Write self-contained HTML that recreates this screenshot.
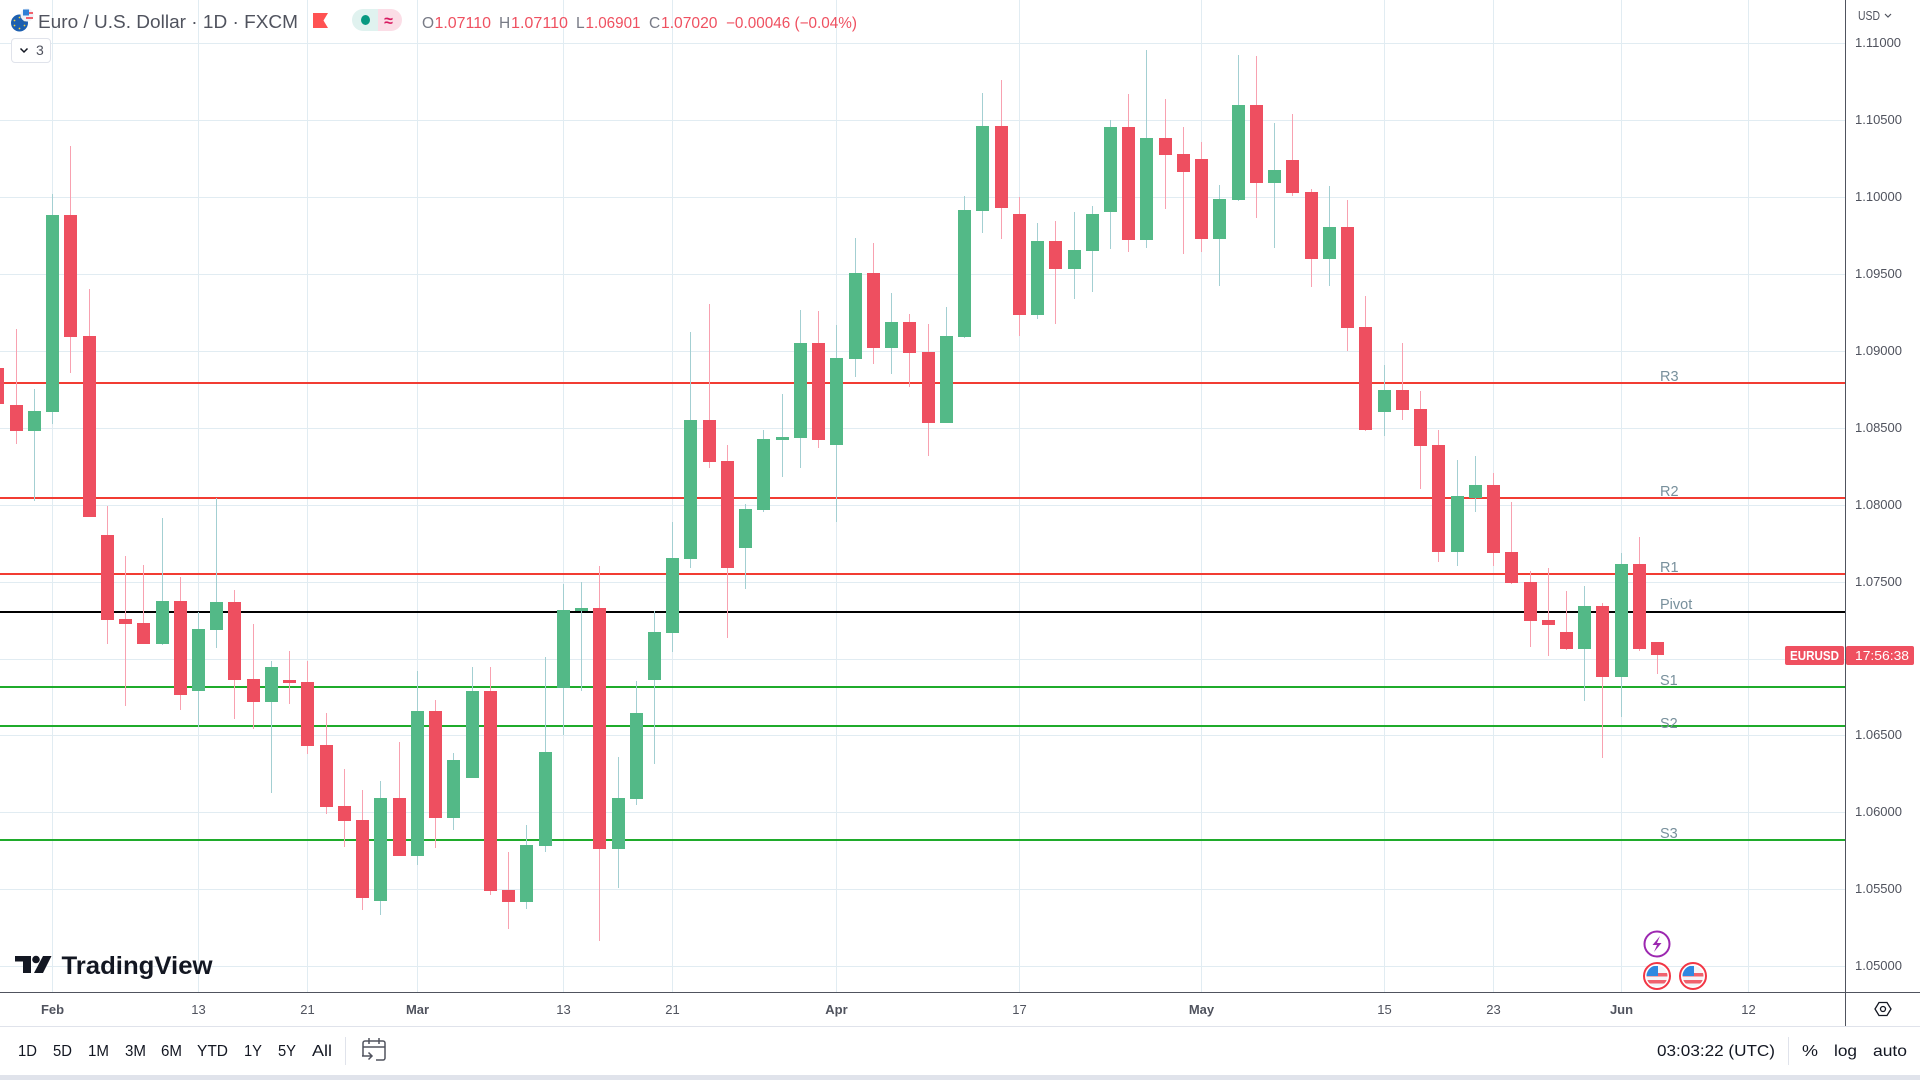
<!DOCTYPE html>
<html lang="en">
<head>
<meta charset="utf-8">
<title>Euro / U.S. Dollar 1D FXCM</title>
<style>
html,body{margin:0;padding:0;background:#fff;width:1920px;height:1080px;overflow:hidden}
svg{display:block;font-family:"Liberation Sans",Arial,sans-serif}
.crisp rect,rect.crisp,line.crisp{shape-rendering:crispEdges}
</style>
</head>
<body>
<svg id="chart" xmlns="http://www.w3.org/2000/svg" width="1920" height="1080" viewBox="0 0 1920 1080">
  <rect x="0" y="0" width="1920" height="1080" fill="#ffffff"/>
  <g id="grid" class="crisp"></g>
  <g id="levels" class="crisp"></g>
  <g id="candles" class="crisp"></g>
  <g id="levelLabels"></g>

  <g>
    <g>
      <circle cx="19.5" cy="23" r="8.5" fill="#1c5fb0"/>
      <g fill="#f5d33c">
        <circle cx="19.5" cy="17.5" r="0.9"/><circle cx="24.5" cy="20.5" r="0.9"/><circle cx="24.5" cy="25.5" r="0.9"/>
        <circle cx="19.5" cy="28.5" r="0.9"/><circle cx="14.5" cy="25.5" r="0.9"/><circle cx="14.5" cy="20.5" r="0.9"/>
      </g>
      <circle cx="27" cy="15" r="6.5" fill="#eef1f6"/>
      <rect x="23" y="9.5" width="6" height="6" fill="#2f7fd6"/>
      <rect x="29" y="12" width="4" height="2" fill="#f0616d"/>
      <rect x="26" y="17" width="7" height="2" fill="#f0616d"/>
    </g>
    <text x="38" y="28" font-size="18" fill="#50535e" textLength="260" lengthAdjust="spacingAndGlyphs">Euro / U.S. Dollar · 1D · FXCM</text>
    <path d="M313 13H328L323.5 20.5L328 28H313Z" fill="#ff5252"/>
    <g>
      <path d="M378 9H363a11 11 0 0 0 0 22H378Z" fill="#e0f2ef"/>
      <path d="M378 9H391a11 11 0 0 1 0 22H378Z" fill="#fbdde6"/>
      <ellipse cx="365.500" cy="20" rx="4.500" ry="5" fill="#089981"/>
      <text x="388.500" y="26" font-size="16" fill="#d81b60" text-anchor="middle" font-weight="700">≈</text>
    </g>
    <g font-size="15.500">
      <text x="422" y="28" fill="#787b86">O</text>
      <text x="434.500" y="28" fill="#ef5060" textLength="56.500" lengthAdjust="spacingAndGlyphs">1.07110</text>
      <text x="499" y="28" fill="#787b86">H</text>
      <text x="511" y="28" fill="#ef5060" textLength="57" lengthAdjust="spacingAndGlyphs">1.07110</text>
      <text x="576" y="28" fill="#787b86">L</text>
      <text x="585.500" y="28" fill="#ef5060" textLength="55" lengthAdjust="spacingAndGlyphs">1.06901</text>
      <text x="649" y="28" fill="#787b86">C</text>
      <text x="661" y="28" fill="#ef5060" textLength="56.500" lengthAdjust="spacingAndGlyphs">1.07020</text>
      <text x="726" y="28" fill="#ef5060" textLength="131" lengthAdjust="spacingAndGlyphs">−0.00046 (−0.04%)</text>
    </g>
    <g>
      <rect x="11.500" y="38.500" width="39" height="24" rx="3.500" fill="#ffffff" stroke="#e0e3eb"/>
      <path d="M20.500 48.500L24 52L27.500 48.500" fill="none" stroke="#131722" stroke-width="1.500"/>
      <text x="36" y="55" font-size="14" fill="#50535e">3</text>
    </g>
  </g>

  <g>
    <path d="M15 956H31V973H23V961.500H15Z" fill="#131722"/>
    <circle cx="36" cy="959.500" r="3.800" fill="#131722"/>
    <path d="M43 956H51.500L43 973H34Z" fill="#131722"/>
    <text x="61.500" y="974" font-size="25" font-weight="700" fill="#131722" textLength="151" lengthAdjust="spacingAndGlyphs">TradingView</text>
  </g>

  <g>
    <g>
      <circle cx="1657" cy="944" r="12.500" fill="#ffffff" stroke="#9c27b0" stroke-width="2"/>
      <path d="M1660 936L1652.500 945H1657L1654 952L1661.500 943H1657Z" fill="#9c27b0"/>
    </g>
    <clipPath id="flagClipA"><circle cx="1657" cy="976" r="10.500"/></clipPath>
    <clipPath id="flagClipB"><circle cx="1693" cy="976" r="10.500"/></clipPath>
    <g>
      <circle cx="1657" cy="976" r="13" fill="#ffffff" stroke="#f23645" stroke-width="2"/>
      <g clip-path="url(#flagClipA)">
        <rect x="1646" y="965" width="22" height="22" fill="#f4f5f8"/>
        <rect x="1646" y="973" width="22" height="3.500" fill="#f0616d"/>
        <rect x="1646" y="980" width="22" height="3.500" fill="#f0616d"/>
        <rect x="1646" y="966" width="12" height="10" fill="#2f88e0"/>
      </g>
    </g>
    <g>
      <circle cx="1693" cy="976" r="13" fill="#ffffff" stroke="#f23645" stroke-width="2"/>
      <g clip-path="url(#flagClipB)">
        <rect x="1682" y="965" width="22" height="22" fill="#f4f5f8"/>
        <rect x="1682" y="973" width="22" height="3.500" fill="#f0616d"/>
        <rect x="1682" y="980" width="22" height="3.500" fill="#f0616d"/>
        <rect x="1682" y="966" width="12" height="10" fill="#2f88e0"/>
      </g>
    </g>
  </g>

  <g>
    <rect class="crisp" x="1845" y="0" width="1" height="1027" fill="#50535e"/>
    <rect class="crisp" x="0" y="992" width="1920" height="1" fill="#50535e"/>
    <rect class="crisp" x="0" y="1026" width="1920" height="1" fill="#e0e3eb"/>
    <rect class="crisp" x="0" y="1075" width="1920" height="5" fill="#e0e3eb"/>
  </g>
  <g id="priceTicksGroup"></g>
  <g id="timeTicksGroup"></g>

  <text x="1858" y="20" font-size="12.500" fill="#50535e" textLength="22" lengthAdjust="spacingAndGlyphs">USD</text>
  <path d="M1885 14L1888 17L1891 14" fill="none" stroke="#50535e" stroke-width="1.200"/>

  <g>
    <rect x="1785" y="646" width="59" height="19" rx="2" fill="#ef5060"/>
    <text x="1814.500" y="660" font-size="13" font-weight="700" fill="#ffffff" text-anchor="middle" textLength="49" lengthAdjust="spacingAndGlyphs">EURUSD</text>
    <rect x="1846" y="646" width="68" height="19" rx="2" fill="#ef5060"/>
    <text x="1882" y="660" font-size="13" fill="#ffffff" text-anchor="middle" textLength="54" lengthAdjust="spacingAndGlyphs">17:56:38</text>
  </g>

  <g fill="none" stroke="#131722" stroke-width="1.300">
    <path d="M1875 1009L1879 1002.500H1887L1891 1009L1887 1015.500H1879Z"/>
    <circle cx="1883" cy="1009" r="2.500"/>
  </g>

  <g font-size="15.500" fill="#131722">
    <text x="18" y="1056" textLength="19" lengthAdjust="spacingAndGlyphs">1D</text>
    <text x="53" y="1056" textLength="19" lengthAdjust="spacingAndGlyphs">5D</text>
    <text x="88" y="1056" textLength="21" lengthAdjust="spacingAndGlyphs">1M</text>
    <text x="125" y="1056" textLength="21" lengthAdjust="spacingAndGlyphs">3M</text>
    <text x="161" y="1056" textLength="21" lengthAdjust="spacingAndGlyphs">6M</text>
    <text x="197" y="1056" textLength="31" lengthAdjust="spacingAndGlyphs">YTD</text>
    <text x="244" y="1056" textLength="18" lengthAdjust="spacingAndGlyphs">1Y</text>
    <text x="278" y="1056" textLength="18" lengthAdjust="spacingAndGlyphs">5Y</text>
    <text x="312" y="1056" textLength="20" lengthAdjust="spacingAndGlyphs">All</text>
    <rect class="crisp" x="345" y="1037" width="1" height="28" fill="#e0e3eb"/>
    <g fill="none" stroke="#50535e" stroke-width="1.500">
      <path d="M363 1056V1043a2 2 0 0 1 2-2H383a2 2 0 0 1 2 2V1058a2 2 0 0 1-2 2H376"/>
      <path d="M363 1047H385M369 1038V1044M379 1038V1044"/>
      <path d="M362 1056H372M368.500 1052.500L372 1056L368.500 1059.500"/>
    </g>
    <text x="1657" y="1056" textLength="118" lengthAdjust="spacingAndGlyphs" font-size="16">03:03:22 (UTC)</text>
    <rect class="crisp" x="1788" y="1037" width="1" height="28" fill="#e0e3eb"/>
    <text x="1802" y="1056" textLength="16" lengthAdjust="spacingAndGlyphs" font-size="16">%</text>
    <text x="1834" y="1056" textLength="23" lengthAdjust="spacingAndGlyphs" font-size="16">log</text>
    <text x="1873" y="1056" textLength="34" lengthAdjust="spacingAndGlyphs" font-size="16">auto</text>
  </g>
</svg>

<script>
const opens = [1.08889,1.08648,1.08479,1.08603,1.09884,1.09097,1.07803,1.07257,1.07231,1.07094,1.07374,1.06789,1.07185,1.07367,1.06867,1.06717,1.06860,1.06847,1.06438,1.06041,1.05950,1.05423,1.06093,1.05716,1.06659,1.05963,1.06223,1.06789,1.05495,1.05417,1.05781,1.06808,1.07309,1.07328,1.05761,1.06086,1.06860,1.07166,1.07647,1.08551,1.08284,1.07718,1.07966,1.08421,1.08434,1.09051,1.08388,1.08947,1.09507,1.09019,1.09188,1.08993,1.08531,1.09090,1.09910,1.10462,1.09890,1.09233,1.09715,1.09533,1.09650,1.09903,1.10456,1.09721,1.10384,1.10280,1.10248,1.09728,1.09981,1.10599,1.10092,1.10241,1.10033,1.09597,1.09806,1.09155,1.08603,1.08746,1.08622,1.08388,1.07692,1.08044,1.08128,1.07692,1.07497,1.07250,1.07172,1.07062,1.07341,1.06880,1.07614,1.07110];
const highs = [1.08889,1.09142,1.08752,1.10020,1.10332,1.09402,1.07991,1.07666,1.07608,1.07913,1.07530,1.07302,1.08044,1.07445,1.07224,1.06984,1.07049,1.06984,1.06646,1.06282,1.06145,1.06203,1.06457,1.06919,1.06730,1.06386,1.06945,1.06945,1.05742,1.05917,1.07010,1.07484,1.07497,1.07601,1.06360,1.06854,1.07309,1.07887,1.09123,1.09305,1.08388,1.08005,1.08486,1.08720,1.09266,1.09259,1.09168,1.09734,1.09702,1.09376,1.09240,1.09175,1.09285,1.10007,1.10677,1.10761,1.10001,1.09832,1.09845,1.09903,1.09942,1.10501,1.10670,1.10956,1.10638,1.10456,1.10358,1.10079,1.10924,1.10917,1.10482,1.10540,1.10053,1.10072,1.09981,1.09357,1.08908,1.09051,1.08739,1.08486,1.08291,1.08317,1.08206,1.08018,1.07569,1.07588,1.07439,1.07471,1.07361,1.07686,1.07790,1.07110];
const lows = [1.08655,1.08395,1.08024,1.08525,1.08856,1.07920,1.07094,1.06691,1.07094,1.07088,1.06665,1.06555,1.07068,1.06607,1.06542,1.06125,1.06704,1.06379,1.05989,1.05774,1.05365,1.05332,1.05716,1.05657,1.05768,1.05885,1.06223,1.05462,1.05241,1.05371,1.05742,1.06503,1.06789,1.05163,1.05508,1.06047,1.06314,1.07042,1.07588,1.08239,1.07133,1.07452,1.07953,1.08180,1.08239,1.08369,1.07887,1.08830,1.08915,1.08850,1.08765,1.08317,1.08531,1.09084,1.09767,1.09728,1.09097,1.09207,1.09175,1.09337,1.09383,1.09663,1.09643,1.09669,1.09923,1.09630,1.09643,1.09422,1.09975,1.09864,1.09669,1.10007,1.09415,1.09422,1.08999,1.08479,1.08447,1.08551,1.08102,1.07627,1.07601,1.07953,1.07601,1.07484,1.07075,1.07016,1.07055,1.06724,1.06353,1.06620,1.07049,1.06901];
const closes = [1.08655,1.08479,1.08609,1.09884,1.09090,1.07920,1.07250,1.07224,1.07094,1.07374,1.06763,1.07192,1.07367,1.06860,1.06717,1.06945,1.06841,1.06431,1.06034,1.05943,1.05443,1.06093,1.05716,1.06659,1.05963,1.06340,1.06789,1.05488,1.05417,1.05787,1.06392,1.07315,1.07328,1.05761,1.06093,1.06646,1.07172,1.07653,1.08551,1.08278,1.07588,1.07972,1.08427,1.08440,1.09051,1.08421,1.08954,1.09507,1.09019,1.09188,1.08986,1.08531,1.09097,1.09916,1.10462,1.09929,1.09233,1.09715,1.09533,1.09656,1.09890,1.10456,1.09721,1.10384,1.10274,1.10163,1.09728,1.09988,1.10599,1.10092,1.10176,1.10027,1.09597,1.09806,1.09149,1.08486,1.08746,1.08616,1.08382,1.07692,1.08057,1.08128,1.07686,1.07491,1.07244,1.07218,1.07062,1.07341,1.06880,1.07614,1.07062,1.07020];

const pivotNames = ["R3","R2","R1","Pivot","S1","S2","S3"];
const pivotPrices = [1.08793,1.08043,1.07549,1.07302,1.06815,1.06561,1.05820];
const pivotKinds = ["resistance","resistance","resistance","pivot","support","support","support"];

const priceTicks = [1.11,1.105,1.10,1.095,1.09,1.085,1.08,1.075,1.07,1.065,1.06,1.055,1.05];
const timeTickLabels = ["Feb","13","21","Mar","13","21","Apr","17","May","15","23","Jun","12"];
const timeTickBars = [3,11,17,23,31,37,46,56,66,76,82,89,96];
const timeTickBold = [true,false,false,true,false,false,true,false,true,false,false,true,false];

const SVGNS = "http://www.w3.org/2000/svg";
const PLOT_RIGHT = 1845;
const PLOT_BOTTOM = 992;

function yScale(price) {
  return 43.3 + (1.11 - price) / 0.005 * 76.9;
}
function xScale(barIndex) {
  return Math.floor(-2.15 + 18.24 * barIndex);
}
function labelOffset(name) {
  if (name === "S2") { return 2; }
  if (name === "Pivot") { return -3; }
  return -2;
}
function svgEl(tag, attrs) {
  const el = document.createElementNS(SVGNS, tag);
  for (const key in attrs) {
    el.setAttribute(key, attrs[key]);
  }
  return el;
}

const gridGroup = document.getElementById("grid");
priceTicks.forEach(function (price) {
  const line = svgEl("rect", { x: 0, y: Math.round(yScale(price)), width: PLOT_RIGHT, height: 1, fill: "#e1ecf2" });
  
  
  gridGroup.appendChild(line);
});
timeTickBars.forEach(function (bar) {
  const line = svgEl("rect", { x: xScale(bar), y: 0, width: 1, height: PLOT_BOTTOM, fill: "#e1ecf2" });
  
  
  gridGroup.appendChild(line);
});

const levelGroup = document.getElementById("levels");
const levelLabelGroup = document.getElementById("levelLabels");
const levelColors = { resistance: "#f23c33", pivot: "#000000", support: "#1fab2b" };
pivotPrices.forEach(function (price, i) {
  const y = Math.round(yScale(price));
  const line = svgEl("rect", { x: 0, y: y - 1, width: PLOT_RIGHT, height: 2, fill: levelColors[pivotKinds[i]] });
  
  
  levelGroup.appendChild(line);
  const label = svgEl("text", { x: 1660, y: y + labelOffset(pivotNames[i]), "font-size": 14.5, fill: "#78909c" });
  
  
  label.textContent = pivotNames[i];
  levelLabelGroup.appendChild(label);
});

const candleGroup = document.getElementById("candles");
opens.forEach(function (open, i) {
  const close = closes[i];
  const up = close >= open;
  const wx = xScale(i);
  const g = svgEl("g", {});
  
  
  const top = Math.round(yScale(Math.max(open, close)));
  const bottom = Math.round(yScale(Math.min(open, close)));
  const hy = Math.round(yScale(highs[i]));
  const ly = Math.round(yScale(lows[i]));
  const wick = svgEl("rect", { x: wx, y: hy, width: 1, height: Math.max(1, ly - hy), fill: up ? "#a3cfd2" : "#f8a1b0" });
  
  
  g.appendChild(wick);
  const body = svgEl("rect", { x: wx - 6, y: top, width: 13, height: Math.max(2, bottom - top), fill: up ? "#53b987" : "#ee4f60" });
  
  
  g.appendChild(body);
  candleGroup.appendChild(g);
});

const priceTickGroup = document.getElementById("priceTicksGroup");
priceTicks.forEach(function (price) {
  const t = svgEl("text", { x: 1855, y: Math.round(yScale(price)) + 4, "font-size": 13, fill: "#50535e" });
  
  
  t.textContent = price.toFixed(5);
  priceTickGroup.appendChild(t);
});

const timeTickGroup = document.getElementById("timeTicksGroup");
timeTickLabels.forEach(function (labelText, i) {
  const attrs = { x: xScale(timeTickBars[i]) + 0.5, y: 1014, "font-size": 13, fill: "#50535e", "text-anchor": "middle" };
  if (timeTickBold[i]) {
    attrs["font-weight"] = 700;
  }
  const t = svgEl("text", attrs);
  
  
  t.textContent = labelText;
  timeTickGroup.appendChild(t);
});
</script>
</body>
</html>
